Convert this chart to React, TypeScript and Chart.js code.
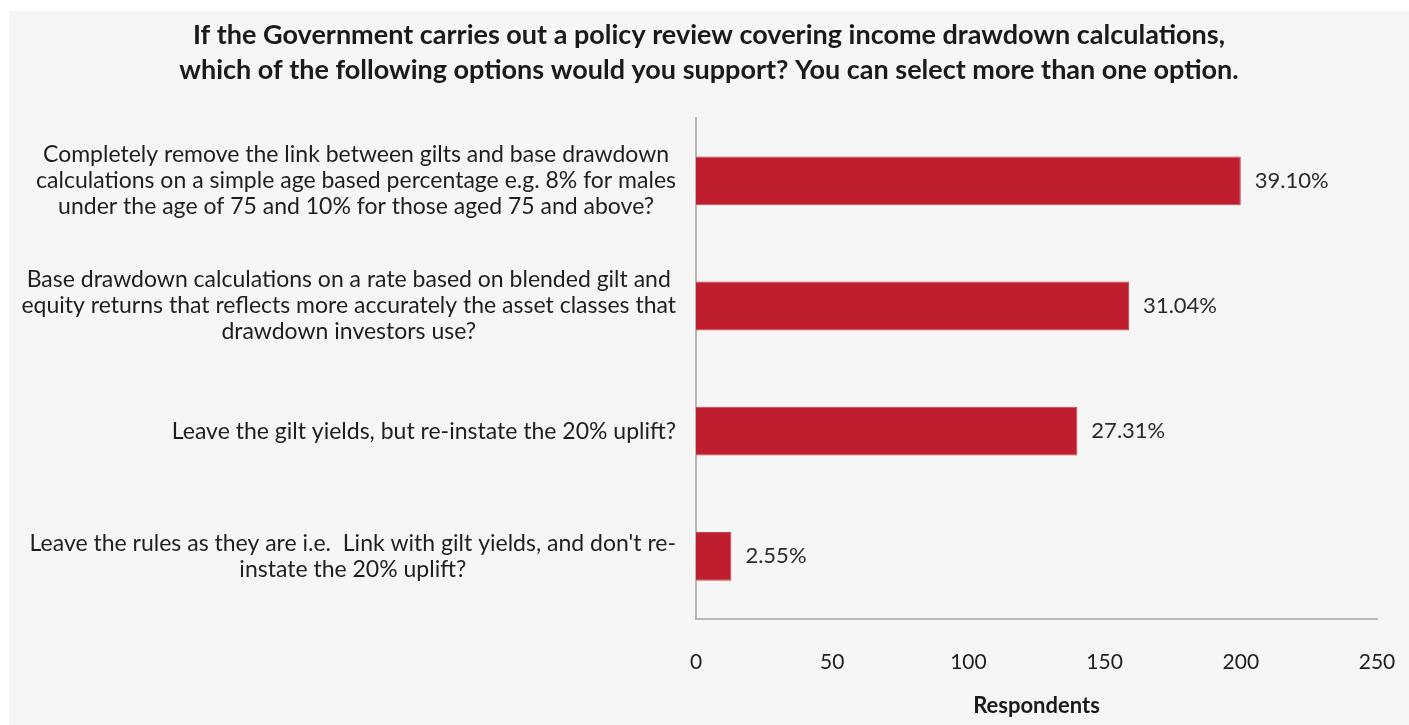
import React, { useEffect, useRef } from "react";
import { Chart, registerables } from "chart.js";

Chart.register(...registerables);

const titleLines = [
  "If the Government carries out a policy review covering income drawdown calculations,",
  "which of the following options would you support? You can select more than one option.",
];

const categories: string[][] = [
  [
    "Completely remove the link between gilts and base drawdown",
    "calculations on a simple age based percentage e.g. 8% for males",
    "under the age of 75 and 10% for those aged 75 and above?",
  ],
  [
    "Base drawdown calculations on a rate based on blended gilt and",
    "equity returns that reflects more accurately the asset classes that",
    "drawdown investors use?",
  ],
  ["Leave the gilt yields, but re-instate the 20% uplift?"],
  [
    "Leave the rules as they are i.e.  Link with gilt yields, and don't re-",
    "instate the 20% uplift?",
  ],
];

const respondents = [200, 159, 140, 13];
const percentLabels = ["39.10%", "31.04%", "27.31%", "2.55%"];
const xTicks = [0, 50, 100, 150, 200, 250];
const xAxisTitle = "Respondents";

const FONT = "Lato, 'Open Sans', sans-serif";

const categoryLabelPlugin = {
  id: "categoryLabels",
  afterDraw(chart: any) {
    const ctx = chart.ctx;
    const yScale = chart.scales.y;
    ctx.save();
    ctx.font = `23px ${FONT}`;
    ctx.fillStyle = "#1e1e1e";
    ctx.textBaseline = "middle";
    ctx.textAlign = "center";
    const lineH = 26;
    const right = yScale.right - 20;
    categories.forEach((lines, i) => {
      const yc = yScale.getPixelForTick(i);
      const w = Math.max(...lines.map((l) => ctx.measureText(l).width));
      const cx = right - w / 2;
      const y0 = yc - ((lines.length - 1) * lineH) / 2;
      lines.forEach((l, j) => ctx.fillText(l, cx, y0 + j * lineH));
    });
    ctx.restore();
  },
};

const valueLabelPlugin = {
  id: "valueLabels",
  afterDatasetsDraw(chart: any) {
    const ctx = chart.ctx;
    const meta = chart.getDatasetMeta(0);
    ctx.save();
    ctx.font = `22px ${FONT}`;
    ctx.fillStyle = "#2a2a2a";
    ctx.textBaseline = "middle";
    ctx.textAlign = "left";
    meta.data.forEach((bar: any, i: number) => {
      ctx.fillText(percentLabels[i], bar.x + 14, bar.y);
    });
    ctx.restore();
  },
};

export default function App() {
  const ref = useRef<HTMLCanvasElement>(null);

  useEffect(() => {
    document.body.style.margin = "0";
    const chart = new Chart(ref.current!, {
      type: "bar",
      data: {
        labels: categories.map((c) => c.join(" ")),
        datasets: [
          {
            data: respondents,
            backgroundColor: "#be1e2d",
            borderColor: "#c9434f",
            borderWidth: 1,
            categoryPercentage: 1,
            barPercentage: 0.39,
          },
        ],
      },
      options: {
        indexAxis: "y",
        animation: false,
        responsive: false,
        maintainAspectRatio: false,
        layout: { padding: { left: 0, right: 0, top: 0, bottom: 0 } },
        plugins: {
          legend: { display: false },
          tooltip: { enabled: false },
          title: {
            display: true,
            text: titleLines,
            color: "#1a1a1a",
            font: { family: FONT, size: 27, weight: "bold", lineHeight: 1.3 },
            padding: { top: 6.5, bottom: 30.5 },
          },
        },
        scales: {
          x: {
            min: 0,
            max: 250,
            afterBuildTicks: (scale: any) => {
              scale.ticks = xTicks.map((v) => ({ value: v }));
            },
            afterFit: (scale: any) => {
              scale.height = 106;
              scale.paddingLeft = 0;
              scale.paddingRight = 32;
            },
            grid: { display: false, drawTicks: false },
            border: { display: true, color: "#b8b8b8", width: 2 },
            ticks: {
              color: "#1e1e1e",
              padding: 31,
              font: { family: FONT, size: 21 },
            },
            title: {
              display: true,
              text: xAxisTitle,
              color: "#1a1a1a",
              font: { family: FONT, size: 22, weight: "bold", lineHeight: 1.2 },
              padding: { top: 0, bottom: 6 },
            },
          },
          y: {
            afterFit: (scale: any) => {
              scale.width = 687;
            },
            grid: { display: false, drawTicks: false },
            border: { display: true, color: "#b8b8b8", width: 2 },
            ticks: { display: false },
          },
        },
      },
      plugins: [categoryLabelPlugin, valueLabelPlugin],
    });
    return () => chart.destroy();
  }, []);

  return (
    <div
      style={{
        marginLeft: 9,
        marginTop: 11,
        width: 1400,
        height: 714,
        background: "#f5f6f5",
      }}
    >
      <canvas ref={ref} width={1400} height={714} style={{ display: "block" }} />
    </div>
  );
}
